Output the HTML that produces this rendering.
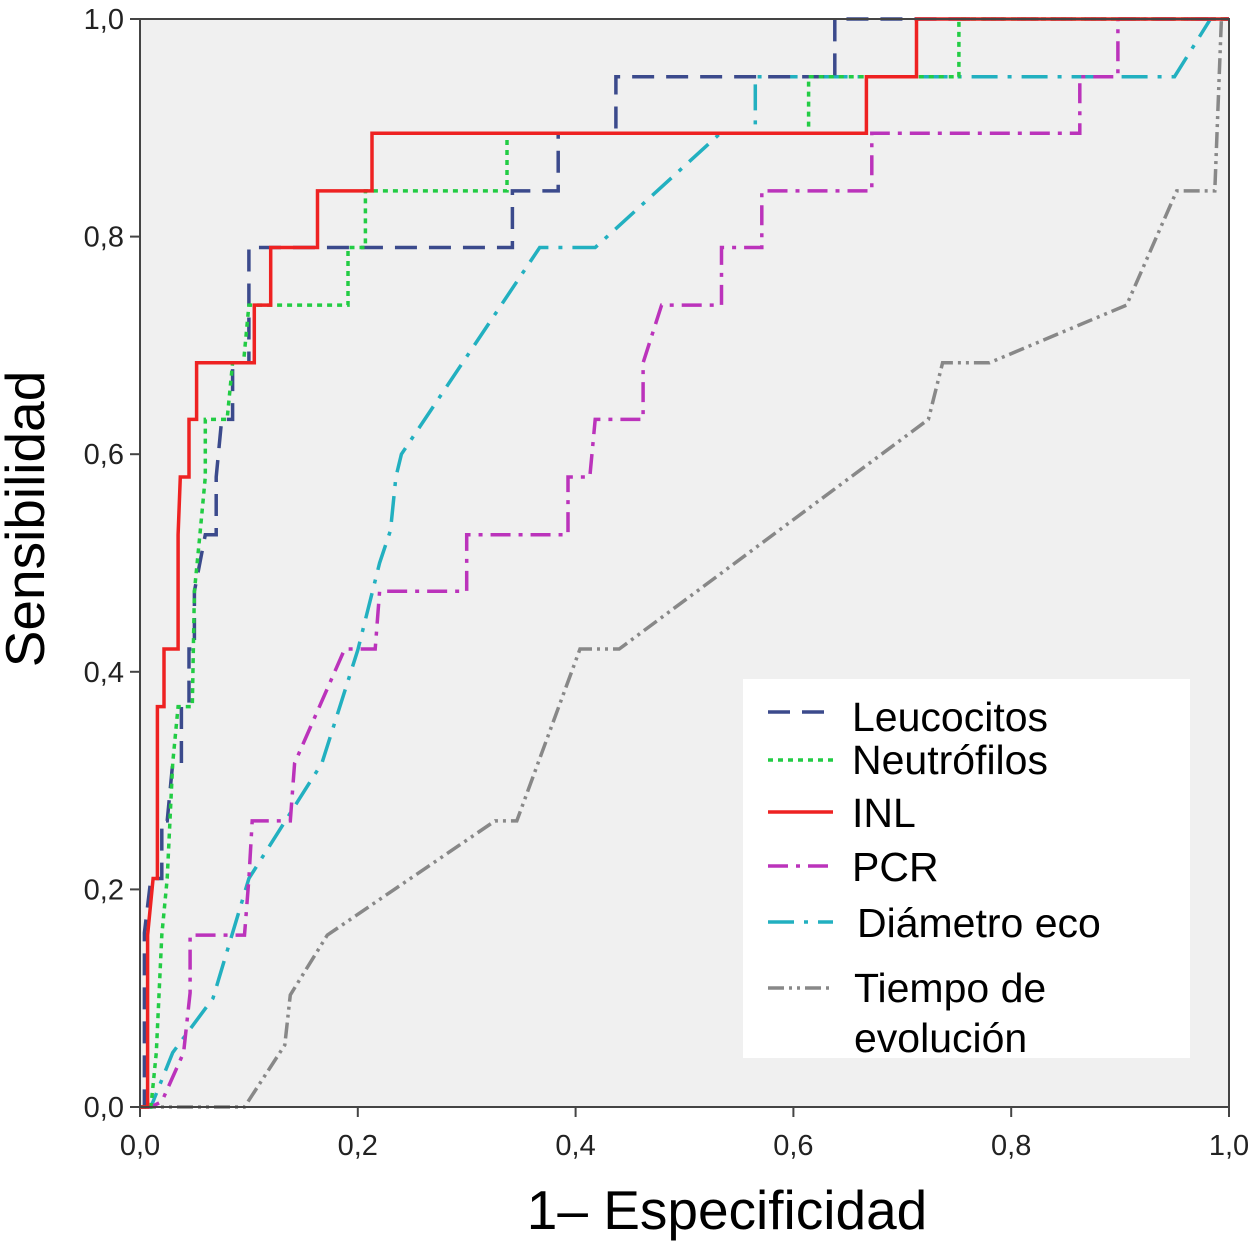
<!DOCTYPE html>
<html><head><meta charset="utf-8"><style>
body{margin:0;background:#fff;}
svg{display:block;font-family:"Liberation Sans",sans-serif;}
</style></head><body>
<svg id="chart" width="1258" height="1245">
<rect x="140" y="19" width="1089" height="1088" fill="#f0f0f0"/>
<g id="axes"></g>
<g id="series"></g>
<rect x="140" y="19" width="1089" height="1088" fill="none" stroke="#444" stroke-width="2"/>
<text x="727" y="1229" font-size="55" text-anchor="middle" fill="#000">1– Especificidad</text>
<text transform="translate(44,519) rotate(-90)" font-size="55" text-anchor="middle" fill="#000">Sensibilidad</text>
<g id="legend">
<rect x="743" y="679" width="447" height="379" fill="#fff"/>
</g>
</svg>
<script>
const ticks=[0,0.2,0.4,0.6,0.8,1.0];
const tickLabels=["0,0","0,2","0,4","0,6","0,8","1,0"];
const seriesNames=["Leucocitos","Neutrófilos","INL","PCR","Diámetro eco","Tiempo de evolución"];
const leucX=[0,0.004,0.004,0.01,0.02,0.02,0.025,0.03,0.038,0.038,0.045,0.045,0.05,0.05,0.06,0.07,0.07,0.075,0.085,0.085,0.1,0.1,0.1,0.342,0.342,0.384,0.384,0.437,0.437,0.638,0.638,1];
const leucY=[0,0,0.16,0.21,0.21,0.263,0.263,0.316,0.316,0.368,0.368,0.421,0.421,0.474,0.526,0.526,0.579,0.632,0.632,0.684,0.684,0.737,0.79,0.79,0.842,0.842,0.895,0.895,0.947,0.947,1,1];
const neutX=[0,0.01,0.015,0.02,0.025,0.03,0.035,0.048,0.05,0.055,0.06,0.06,0.08,0.085,0.095,0.1,0.191,0.191,0.207,0.207,0.337,0.337,0.614,0.614,0.752,0.752,1];
const neutY=[0,0,0.05,0.158,0.21,0.316,0.368,0.368,0.474,0.526,0.579,0.632,0.632,0.684,0.684,0.737,0.737,0.79,0.79,0.842,0.842,0.895,0.895,0.947,0.947,1,1];
const inlX=[0,0.007,0.007,0.012,0.016,0.016,0.022,0.022,0.035,0.035,0.037,0.045,0.045,0.052,0.052,0.105,0.105,0.12,0.12,0.163,0.163,0.213,0.213,0.667,0.667,0.713,0.713,1];
const inlY=[0,0,0.158,0.21,0.21,0.368,0.368,0.421,0.421,0.526,0.579,0.579,0.632,0.632,0.684,0.684,0.737,0.737,0.79,0.79,0.842,0.842,0.895,0.895,0.947,0.947,1,1];
const pcrX=[0,0.01,0.02,0.04,0.046,0.046,0.096,0.1,0.103,0.138,0.142,0.188,0.216,0.22,0.3,0.3,0.393,0.393,0.413,0.418,0.462,0.462,0.479,0.534,0.534,0.571,0.571,0.672,0.672,0.863,0.863,0.898,0.898,1];
const pcrY=[0,0,0.005,0.05,0.105,0.158,0.158,0.21,0.263,0.263,0.316,0.421,0.421,0.474,0.474,0.526,0.526,0.579,0.579,0.632,0.632,0.684,0.737,0.737,0.79,0.79,0.842,0.842,0.895,0.895,0.947,0.947,1,1];
const diamX=[0,0.01,0.03,0.067,0.1,0.167,0.2,0.22,0.23,0.235,0.24,0.367,0.418,0.533,0.565,0.565,0.95,0.983,1];
const diamY=[0,0,0.05,0.1,0.21,0.316,0.42,0.5,0.53,0.579,0.6,0.79,0.79,0.895,0.895,0.947,0.947,1,1];
const tiempoX=[0,0.096,0.133,0.138,0.172,0.326,0.346,0.404,0.44,0.724,0.737,0.78,0.906,0.952,0.987,0.993,1];
const tiempoY=[0,0,0.057,0.103,0.158,0.263,0.263,0.421,0.421,0.632,0.684,0.684,0.737,0.842,0.842,1,1];

const NS="http://www.w3.org/2000/svg";
const sx=v=>140+v*1089, sy=v=>1107-v*1088;
const ax=document.getElementById('axes');
ticks.forEach((t,i)=>{
  const l1=document.createElementNS(NS,'line');
  l1.setAttribute('x1',sx(t));l1.setAttribute('x2',sx(t));l1.setAttribute('y1',1107);l1.setAttribute('y2',1117);
  l1.setAttribute('stroke','#444');l1.setAttribute('stroke-width',2);
  
  
  ax.appendChild(l1);
  const t1=document.createElementNS(NS,'text');
  t1.setAttribute('x',sx(t));t1.setAttribute('y',1155);t1.setAttribute('font-size',29);t1.setAttribute('text-anchor','middle');t1.setAttribute('fill','#222');
  t1.textContent=tickLabels[i];
  
  
  ax.appendChild(t1);
  const l2=document.createElementNS(NS,'line');
  l2.setAttribute('x1',130);l2.setAttribute('x2',140);l2.setAttribute('y1',sy(t));l2.setAttribute('y2',sy(t));
  l2.setAttribute('stroke','#444');l2.setAttribute('stroke-width',2);
  
  
  ax.appendChild(l2);
  const t2=document.createElementNS(NS,'text');
  t2.setAttribute('x',124);t2.setAttribute('y',sy(t)+10);t2.setAttribute('font-size',29);t2.setAttribute('text-anchor','end');t2.setAttribute('fill','#222');
  t2.textContent=tickLabels[i];
  
  
  ax.appendChild(t2);
});
const styles=[
 {c:'#3b4a8c',d:'22,12',n:'leucocitos'},
 {c:'#22cc44',d:'5,5',n:'neutrofilos'},
 {c:'#ee2222',d:'',n:'inl'},
 {c:'#bb33bb',d:'20,8,4,8',n:'pcr'},
 {c:'#22b0c0',d:'26,10,4,10',n:'diametro-eco'},
 {c:'#888888',d:'16,5,3,5,3,5',n:'tiempo-evolucion'}];
const data=[[leucX,leucY],[neutX,neutY],[inlX,inlY],[pcrX,pcrY],[diamX,diamY],[tiempoX,tiempoY]];
const sg=document.getElementById('series');
const order=[5,4,3,0,1,2];
order.forEach(i=>{
  const [xs,ys]=data[i];
  const p=document.createElementNS(NS,'path');
  p.setAttribute('d',xs.map((x,j)=>(j?'L':'M')+sx(x).toFixed(1)+','+sy(ys[j]).toFixed(1)).join(''));
  p.setAttribute('fill','none');p.setAttribute('stroke',styles[i].c);p.setAttribute('stroke-width',3.5);
  if(styles[i].d)p.setAttribute('stroke-dasharray',styles[i].d);
  
  
  sg.appendChild(p);
});
const lg=document.getElementById('legend');
const rowsY=[712,760,812,866,922,988];
const textY=[731,774,827,881,937,1002];
seriesNames.forEach((nm,i)=>{
  const l=document.createElementNS(NS,'line');
  l.setAttribute('x1',768);l.setAttribute('x2',833);l.setAttribute('y1',rowsY[i]);l.setAttribute('y2',rowsY[i]);
  l.setAttribute('stroke',styles[i].c);l.setAttribute('stroke-width',3.5);
  if(styles[i].d)l.setAttribute('stroke-dasharray',styles[i].d);
  
  
  lg.appendChild(l);
  const t=document.createElementNS(NS,'text');
  t.setAttribute('x',i==4?857:852);t.setAttribute('y',textY[i]);t.setAttribute('font-size',41);t.setAttribute('fill','#000');
  if(i==5){
    const a=document.createElementNS(NS,'tspan');a.setAttribute('x',854);a.textContent='Tiempo de';t.appendChild(a);
    const b=document.createElementNS(NS,'tspan');b.setAttribute('x',854);b.setAttribute('dy',50);b.textContent='evolución';t.appendChild(b);
  } else t.textContent=nm;
  
  
  lg.appendChild(t);
});
</script>
</body></html>
